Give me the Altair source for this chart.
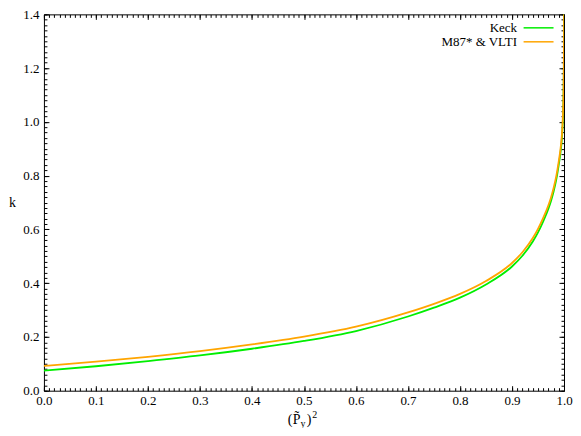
import altair as alt
import pandas as pd

# ---- data ----
x_vals = [0.0, 0.1, 0.2, 0.3, 0.4, 0.5, 0.6, 0.7, 0.75, 0.8, 0.85, 0.9, 0.92,
          0.94, 0.95, 0.96, 0.97, 0.975, 0.98, 0.985, 0.99, 0.993, 0.995,
          0.997, 0.998, 0.999, 0.9995, 0.9998, 0.9999, 1.0]
keck = [0.075, 0.091, 0.110, 0.131, 0.156, 0.185, 0.222, 0.276, 0.309, 0.346,
        0.395, 0.462, 0.502, 0.555, 0.589, 0.630, 0.677, 0.706, 0.741, 0.784,
        0.842, 0.882, 0.917, 0.972, 1.017, 1.092, 1.162, 1.247, 1.307, 1.400]
m87_vlti = [0.092, 0.108, 0.126, 0.147, 0.172, 0.201, 0.238, 0.291, 0.323,
            0.360, 0.408, 0.475, 0.515, 0.568, 0.602, 0.643, 0.690, 0.719,
            0.754, 0.797, 0.855, 0.895, 0.930, 0.985, 1.030, 1.105, 1.175,
            1.260, 1.320, 1.400]
series_names = ["Keck", "M87* & VLTI"]
series_colors = ["#00ee00", "#ffa500"]

x_major = [0.0, 0.1, 0.2, 0.3, 0.4, 0.5, 0.6, 0.7, 0.8, 0.9, 1.0]
y_major = [0.0, 0.2, 0.4, 0.6, 0.8, 1.0, 1.2, 1.4]
x_minor = [round(i * 0.01, 2) for i in range(101)]
y_minor = [round(i * 0.02, 2) for i in range(71)]

n = len(x_vals)
df = pd.DataFrame({
    "x": x_vals + x_vals,
    "k": keck + m87_vlti,
    "series": [series_names[0]] * n + [series_names[1]] * n,
})

FONT = "Liberation Serif"
PLOT_W, PLOT_H = 521, 377
xscale = alt.Scale(domain=[0, 1], nice=False, zero=False)
yscale = alt.Scale(domain=[0, 1.4], nice=False, zero=False)


def ax(orient, values, size, labels=False, **kw):
    return alt.Axis(orient=orient, values=values, tickSize=size, offset=-size,
                    domain=False, grid=False, labels=labels, ticks=True,
                    tickColor="black", tickWidth=1, **kw)


lines = alt.Chart(df).mark_line(strokeWidth=1.8, clip=True, interpolate="monotone").encode(
    x=alt.X("x:Q", scale=xscale,
            axis=ax("bottom", x_major, 5, labels=True, format=".1f", labelPadding=4,
                    title=None, labelFont=FONT, labelFontSize=13, labelColor="black",
                    labelFlush=False)),
    y=alt.Y("k:Q", scale=yscale,
            axis=ax("left", y_major, 5, labels=True, format=".1f", labelPadding=5,
                    title="k", titleAngle=0, titleX=-37, titleY=188,
                    titleAlign="center", titleBaseline="middle", titleFont=FONT,
                    titleFontSize=14, titleFontWeight="normal", titleColor="black",
                    labelFont=FONT, labelFontSize=13, labelColor="black",
                    labelFlush=False)),
    color=alt.Color("series:N",
                    scale=alt.Scale(domain=series_names, range=series_colors),
                    legend=alt.Legend(orient="none", legendX=489, legendY=7, title=None,
                                      direction="vertical", symbolType="M-3,0H3",
                                      symbolSize=100, symbolStrokeWidth=1.5,
                                      labelFont=FONT, labelFontSize=13,
                                      labelColor="black", labelAlign="right",
                                      labelOffset={"expr": "-28"}, rowPadding=0,
                                      padding=0)),
)


def tick_layer(xo, xv, xs, yo, yv, ys):
    return alt.Chart(df).mark_point(opacity=0, size=1).encode(
        x=alt.X("x:Q", scale=xscale, axis=ax(xo, xv, xs, title=None)),
        y=alt.Y("k:Q", scale=yscale, axis=ax(yo, yv, ys, title=None)),
    )


top_right_major = tick_layer("top", x_major, 5, "right", y_major, 5)
bottom_left_minor = tick_layer("bottom", x_minor, 3, "left", y_minor, 3)
top_right_minor = tick_layer("top", x_minor, 3, "right", y_minor, 3)

# x-axis title (P~_y)^2 assembled from text pieces
one = pd.DataFrame({"t": [0]})
pieces = [
    ("(", 244.3, 410.3, 14),
    ("P\u0303", 249.3, 410.3, 14),
    ("y", 256.9, 413.0, 10),
    (")", 263.3, 410.3, 14),
    ("2", 268.9, 404.0, 10),
]
title_layers = [
    alt.Chart(one).mark_text(text=t, x=px, y=py, align="left", baseline="alphabetic",
                             font=FONT, fontSize=fs, color="black")
    for t, px, py, fs in pieces
]

chart = alt.layer(lines, top_right_major, bottom_left_minor, top_right_minor,
                  *title_layers).resolve_axis(
    x="independent", y="independent"
).properties(
    width=PLOT_W, height=PLOT_H,
    autosize=alt.AutoSizeParams(type="none"),
    padding={"left": 36, "top": 6, "right": 9, "bottom": 37},
    background="white",
).configure_view(stroke="black", strokeWidth=1)

chart.save("out.html", embed_options={"renderer": "svg", "actions": False})
